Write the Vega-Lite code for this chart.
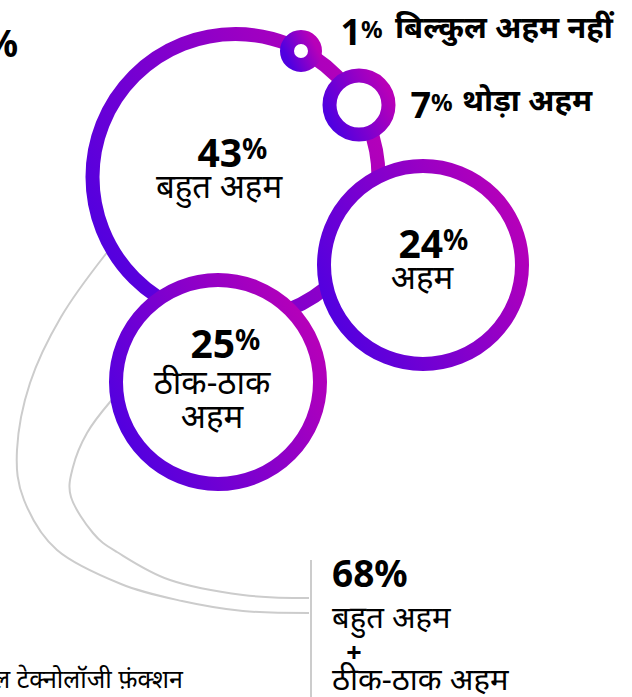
{
  "$schema": "https://vega.github.io/schema/vega-lite/v6.json",
  "width": 632,
  "height": 697,
  "autosize": {"type": "none"},
  "padding": 0,
  "background": "white",
  "config": {"view": {"stroke": null}, "font": "Noto Sans"},
  "datasets": {
    "circles": [
      {"pct": 43, "x": 235.5, "y": 177},
      {"pct": 1, "x": 301, "y": 51},
      {"pct": 7, "x": 359, "y": 105},
      {"pct": 24, "x": 423, "y": 265},
      {"pct": 25, "x": 218, "y": 382}
    ],
    "curves": [
      {"c": "outer", "s": 1, "x": 118, "y": 244},
      {"c": "outer", "s": 2, "x": 105, "y": 255},
      {"c": "outer", "s": 3, "x": 61, "y": 317},
      {"c": "outer", "s": 4, "x": 30, "y": 383},
      {"c": "outer", "s": 5, "x": 17, "y": 450},
      {"c": "outer", "s": 6, "x": 24, "y": 500},
      {"c": "outer", "s": 7, "x": 57, "y": 550},
      {"c": "outer", "s": 8, "x": 121, "y": 584},
      {"c": "outer", "s": 9, "x": 182, "y": 601},
      {"c": "outer", "s": 10, "x": 243, "y": 611},
      {"c": "outer", "s": 11, "x": 309, "y": 613},
      {"c": "inner", "s": 1, "x": 120, "y": 394},
      {"c": "inner", "s": 2, "x": 110, "y": 402},
      {"c": "inner", "s": 3, "x": 87, "y": 433},
      {"c": "inner", "s": 4, "x": 73, "y": 467},
      {"c": "inner", "s": 5, "x": 71, "y": 497},
      {"c": "inner", "s": 6, "x": 93, "y": 533},
      {"c": "inner", "s": 7, "x": 117, "y": 552},
      {"c": "inner", "s": 8, "x": 170, "y": 580},
      {"c": "inner", "s": 9, "x": 243, "y": 595},
      {"c": "inner", "s": 10, "x": 309, "y": 598}
    ],
    "cnums": [
      {"n": "43", "x": 242, "y": 167},
      {"n": "24", "x": 443, "y": 258},
      {"n": "25", "x": 235, "y": 358}
    ],
    "tnums": [
      {"n": "1", "x": 361, "y": 45},
      {"n": "7", "x": 431, "y": 118}
    ],
    "toplabels": [
      {"t": "बिल्कुल अहम नहीं", "x": 395, "y": 38},
      {"t": "थोड़ा अहम", "x": 462, "y": 111}
    ],
    "inlabels": [
      {"t": "बहुत अहम", "x": 219, "y": 198},
      {"t": "अहम", "x": 422, "y": 289},
      {"t": "ठीक-ठाक", "x": 212, "y": 394},
      {"t": "अहम", "x": 212, "y": 428}
    ],
    "annlabels": [
      {"t": "बहुत अहम", "x": 332, "y": 628},
      {"t": "ठीक-ठाक अहम", "x": 332, "y": 690}
    ]
  },
  "layer": [
    {
      "data": {"name": "curves"},
      "mark": {"type": "line", "interpolate": "cardinal", "stroke": "#cccccc", "strokeWidth": 2},
      "encoding": {
        "x": {"field": "x", "type": "quantitative", "scale": {"domain": [0, 632], "nice": false, "zero": false}, "axis": null},
        "y": {"field": "y", "type": "quantitative", "scale": {"domain": [0, 697], "nice": false, "zero": false, "reverse": true}, "axis": null},
        "detail": {"field": "c"},
        "order": {"field": "s", "type": "quantitative"}
      }
    },
    {
      "data": {"values": [{"x": 311, "y": 560, "y2": 697}]},
      "mark": {"type": "rule", "stroke": "#cccccc", "strokeWidth": 2},
      "encoding": {
        "x": {"field": "x", "type": "quantitative"},
        "y": {"field": "y", "type": "quantitative"},
        "y2": {"field": "y2"}
      }
    },
    {
      "data": {"name": "circles"},
      "mark": {
        "type": "point", "shape": "circle", "filled": true, "fill": "white", "opacity": 1, "fillOpacity": 1, "strokeOpacity": 1, "strokeWidth": 14,
        "stroke": {"gradient": "linear", "x1": 0, "y1": 0.75, "x2": 1, "y2": 0.25, "stops": [{"offset": 0, "color": "#5000e0"}, {"offset": 1, "color": "#b800b8"}]}
      },
      "encoding": {
        "x": {"field": "x", "type": "quantitative"},
        "y": {"field": "y", "type": "quantitative"},
        "size": {"field": "pct", "type": "quantitative", "scale": {"type": "linear", "domain": [1, 7, 24, 25, 43], "range": [784, 3481, 39204, 41616, 81796], "nice": false, "zero": false}, "legend": null}
      }
    },
    {
      "data": {"name": "cnums"},
      "mark": {"type": "text", "align": "right", "baseline": "alphabetic", "fontSize": 39, "fontWeight": "bold", "color": "#000000"},
      "encoding": {"x": {"field": "x", "type": "quantitative"}, "y": {"field": "y", "type": "quantitative"}, "text": {"field": "n"}}
    },
    {
      "data": {"name": "cnums"},
      "mark": {"type": "text", "align": "left", "baseline": "alphabetic", "fontSize": 28, "fontWeight": "bold", "dx": 0, "dy": -8, "color": "#000000", "text": "%"},
      "encoding": {"x": {"field": "x", "type": "quantitative"}, "y": {"field": "y", "type": "quantitative"}}
    },
    {
      "data": {"name": "tnums"},
      "mark": {"type": "text", "align": "right", "baseline": "alphabetic", "fontSize": 36, "fontWeight": "bold", "color": "#000000"},
      "encoding": {"x": {"field": "x", "type": "quantitative"}, "y": {"field": "y", "type": "quantitative"}, "text": {"field": "n"}}
    },
    {
      "data": {"name": "tnums"},
      "mark": {"type": "text", "align": "left", "baseline": "alphabetic", "fontSize": 24, "fontWeight": "bold", "dx": 0, "dy": -7, "color": "#000000", "text": "%"},
      "encoding": {"x": {"field": "x", "type": "quantitative"}, "y": {"field": "y", "type": "quantitative"}}
    },
    {
      "data": {"name": "toplabels"},
      "mark": {"type": "text", "align": "left", "baseline": "alphabetic", "fontSize": 31, "fontWeight": "bold", "color": "#000000"},
      "encoding": {"x": {"field": "x", "type": "quantitative"}, "y": {"field": "y", "type": "quantitative"}, "text": {"field": "t"}}
    },
    {
      "data": {"name": "inlabels"},
      "mark": {"type": "text", "align": "center", "baseline": "alphabetic", "fontSize": 33, "color": "#000000"},
      "encoding": {"x": {"field": "x", "type": "quantitative"}, "y": {"field": "y", "type": "quantitative"}, "text": {"field": "t"}}
    },
    {
      "data": {"name": "annlabels"},
      "mark": {"type": "text", "align": "left", "baseline": "alphabetic", "fontSize": 31, "color": "#000000"},
      "encoding": {"x": {"field": "x", "type": "quantitative"}, "y": {"field": "y", "type": "quantitative"}, "text": {"field": "t"}}
    },
    {
      "data": {"values": [{"t": "68%", "x": 332, "y": 587}]},
      "mark": {"type": "text", "align": "left", "baseline": "alphabetic", "fontSize": 37, "fontWeight": "bold", "color": "#000000"},
      "encoding": {"x": {"field": "x", "type": "quantitative"}, "y": {"field": "y", "type": "quantitative"}, "text": {"field": "t"}}
    },
    {
      "data": {"values": [{"t": "+", "x": 354, "y": 662}]},
      "mark": {"type": "text", "align": "center", "baseline": "alphabetic", "fontSize": 27, "fontWeight": "bold", "color": "#000000"},
      "encoding": {"x": {"field": "x", "type": "quantitative"}, "y": {"field": "y", "type": "quantitative"}, "text": {"field": "t"}}
    },
    {
      "data": {"values": [{"t": "%", "x": 18, "y": 57}]},
      "mark": {"type": "text", "align": "right", "baseline": "alphabetic", "fontSize": 37, "fontWeight": "bold", "color": "#000000"},
      "encoding": {"x": {"field": "x", "type": "quantitative"}, "y": {"field": "y", "type": "quantitative"}, "text": {"field": "t"}}
    },
    {
      "data": {"values": [{"t": "डिजिटल टेक्नोलॉजी फ़ंक्शन", "x": 183, "y": 688}]},
      "mark": {"type": "text", "align": "right", "baseline": "alphabetic", "fontSize": 25, "color": "#000000"},
      "encoding": {"x": {"field": "x", "type": "quantitative"}, "y": {"field": "y", "type": "quantitative"}, "text": {"field": "t"}}
    }
  ]
}
